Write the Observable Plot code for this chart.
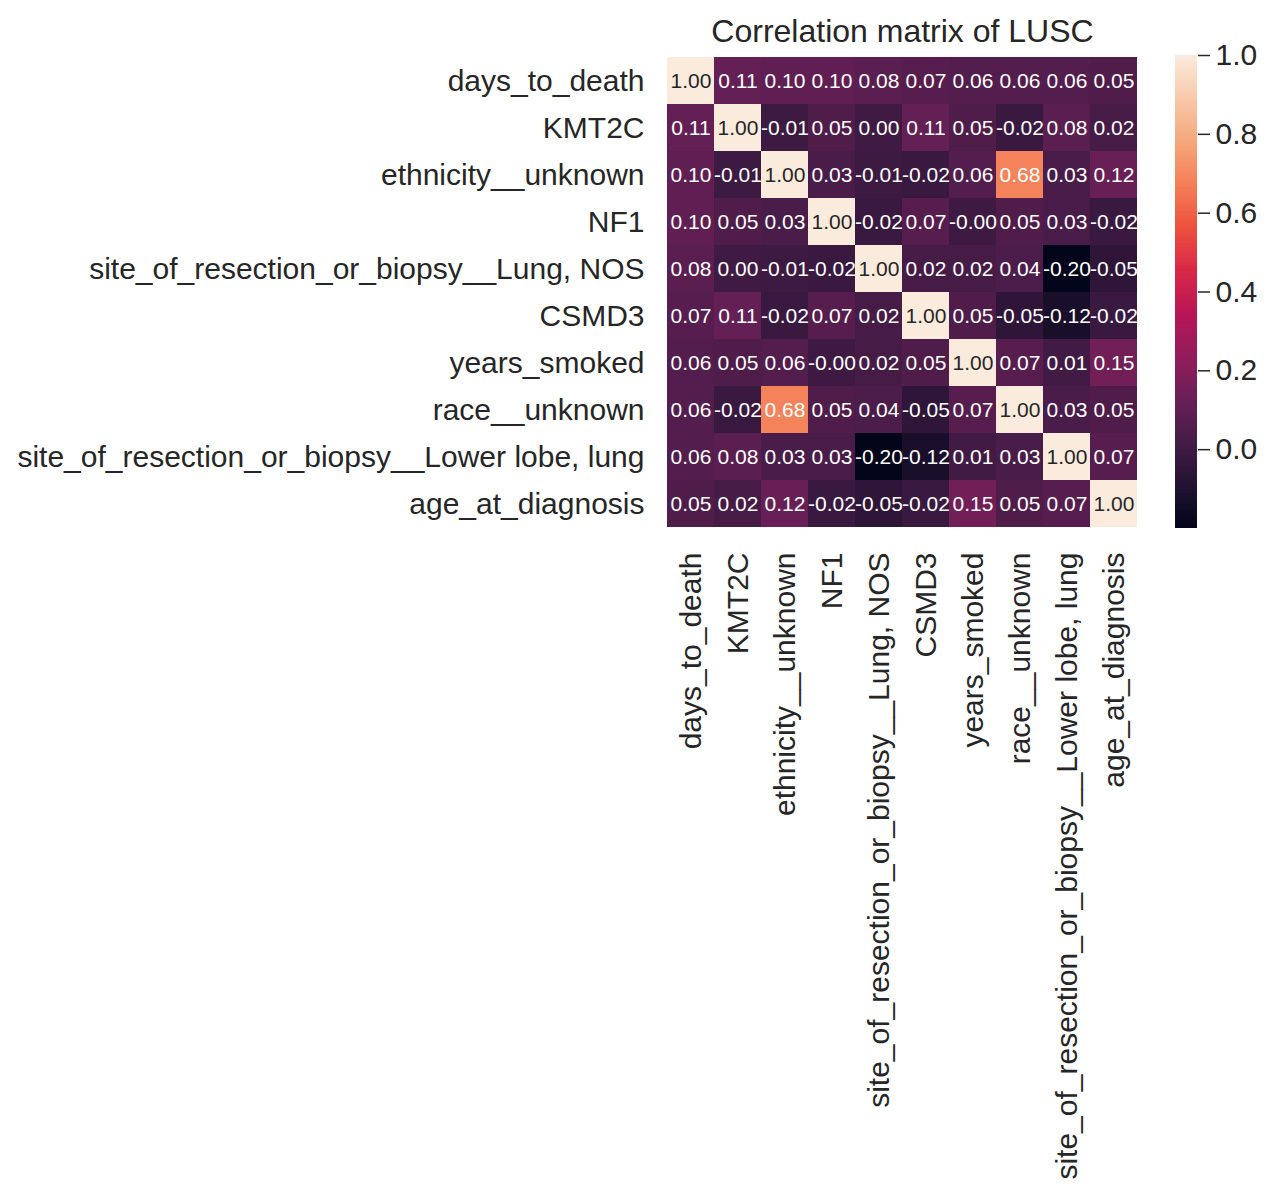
<!DOCTYPE html>
<html>
<head>
<meta charset="utf-8">
<script src="https://cdn.jsdelivr.net/npm/d3@7"></script>
<script src="https://cdn.jsdelivr.net/npm/@observablehq/plot@0.6"></script>
<style>
  html, body { margin: 0; padding: 0; background: white; }
  #wrap { position: relative; width: 1280px; height: 1194px; overflow: hidden; }
  #cbar { position: absolute; left: 1175px; top: 0px; width: 105px; }
  svg { max-width: none !important; }
</style>
</head>
<body>
<div id="wrap"><div id="main"></div><div id="cbar"></div></div>
<script>
const title = "Correlation matrix of LUSC";
const labels = [
  "days_to_death",
  "KMT2C",
  "ethnicity__unknown",
  "NF1",
  "site_of_resection_or_biopsy__Lung, NOS",
  "CSMD3",
  "years_smoked",
  "race__unknown",
  "site_of_resection_or_biopsy__Lower lobe, lung",
  "age_at_diagnosis"
];
// correlation rows (same order as labels)
const r_days_to_death = [1.00, 0.11, 0.10, 0.10, 0.08, 0.07, 0.06, 0.06, 0.06, 0.05];
const r_KMT2C         = [0.11, 1.00, -0.01, 0.05, 0.00, 0.11, 0.05, -0.02, 0.08, 0.02];
const r_ethnicity     = [0.10, -0.01, 1.00, 0.03, -0.01, -0.02, 0.06, 0.68, 0.03, 0.12];
const r_NF1           = [0.10, 0.05, 0.03, 1.00, -0.02, 0.07, -0.004, 0.05, 0.03, -0.02];
const r_lungNOS       = [0.08, 0.00, -0.01, -0.02, 1.00, 0.02, 0.02, 0.04, -0.20, -0.05];
const r_CSMD3         = [0.07, 0.11, -0.02, 0.07, 0.02, 1.00, 0.05, -0.05, -0.12, -0.02];
const r_years_smoked  = [0.06, 0.05, 0.06, -0.004, 0.02, 0.05, 1.00, 0.07, 0.01, 0.15];
const r_race          = [0.06, -0.02, 0.68, 0.05, 0.04, -0.05, 0.07, 1.00, 0.03, 0.05];
const r_lowerLobe     = [0.06, 0.08, 0.03, 0.03, -0.20, -0.12, 0.01, 0.03, 1.00, 0.07];
const r_age           = [0.05, 0.02, 0.12, -0.02, -0.05, -0.02, 0.15, 0.05, 0.07, 1.00];
const matrix = [r_days_to_death, r_KMT2C, r_ethnicity, r_NF1, r_lungNOS, r_CSMD3,
                r_years_smoked, r_race, r_lowerLobe, r_age];
const colorbarTicks = [0.0, 0.2, 0.4, 0.6, 0.8, 1.0];
const vmin = -0.20, vmax = 1.00;

// seaborn "rocket" colormap (approximate control points)
const rocketStops = ["#03051a", "#221331", "#451c47", "#6a1f56", "#921c5b", "#b91657",
                     "#d92847", "#ed513e", "#f47f58", "#f6a77c", "#f7c9aa", "#faebdd"];
const rocket = d3.piecewise(d3.interpolateRgb, rocketStops);

const data = [];
matrix.forEach((row, i) => row.forEach((v, j) => data.push({row: labels[i], col: labels[j], value: v})));

const font = "Liberation Sans, Arial, Helvetica, sans-serif";
const ink = "#262626";
const colorOpts = {type: "linear", domain: [vmin, vmax], interpolate: rocket};

const main = Plot.plot({
  width: 1280, height: 1194,
  marginLeft: 665, marginRight: 141, marginTop: 55, marginBottom: 666,
  style: {fontFamily: font, background: "white", color: ink},
  x: {domain: labels, padding: 0, label: null, axis: null},
  y: {domain: labels, padding: 0, label: null, axis: null},
  color: colorOpts,
  marks: [
    Plot.cell(data, {x: "col", y: "row", fill: "value", inset: 0, shapeRendering: "crispEdges"}),
    Plot.text(data, {x: "col", y: "row", text: d => d.value.toFixed(2), filter: d => d.value < 0.9,
                     fill: "white", fontSize: 21}),
    Plot.text(data, {x: "col", y: "row", text: d => d.value.toFixed(2), filter: d => d.value >= 0.9,
                     fill: ink, fontSize: 21}),
    Plot.axisX({anchor: "bottom", tickRotate: -90, tickSize: 0, tickPadding: 24, fontSize: 30,
                fill: ink, label: null}),
    Plot.axisY({anchor: "left", tickSize: 0, tickPadding: 21, fontSize: 30, fill: ink, label: null}),
    Plot.text([title], {frameAnchor: "top", dy: -36, fontSize: 32, fill: ink})
  ]
});
document.getElementById("main").appendChild(main);

// colorbar
const nSteps = 300;
const step = (vmax - vmin) / nSteps;
const gradient = d3.range(nSteps).map(i => vmin + i * step);
const cbar = Plot.plot({
  width: 105, height: 583,
  marginLeft: 0, marginRight: 83, marginTop: 55, marginBottom: 55,
  style: {fontFamily: font, background: "transparent", color: ink},
  x: {domain: [0, 1], axis: null},
  y: {domain: [vmin, vmax], axis: null},
  color: colorOpts,
  marks: [
    Plot.rect(gradient, {x1: 0, x2: 1, y1: d => d, y2: d => Math.min(vmax, d + step * 2),
                         fill: d => d + step / 2, shapeRendering: "crispEdges"}),
    Plot.axisY({anchor: "right", ticks: colorbarTicks, tickFormat: d3.format(".1f"), tickSize: 12,
                tickPadding: 6, fontSize: 30, fill: ink, stroke: ink, strokeWidth: 1.5, label: null})
  ]
});
document.getElementById("cbar").appendChild(cbar);
</script>
</body>
</html>
